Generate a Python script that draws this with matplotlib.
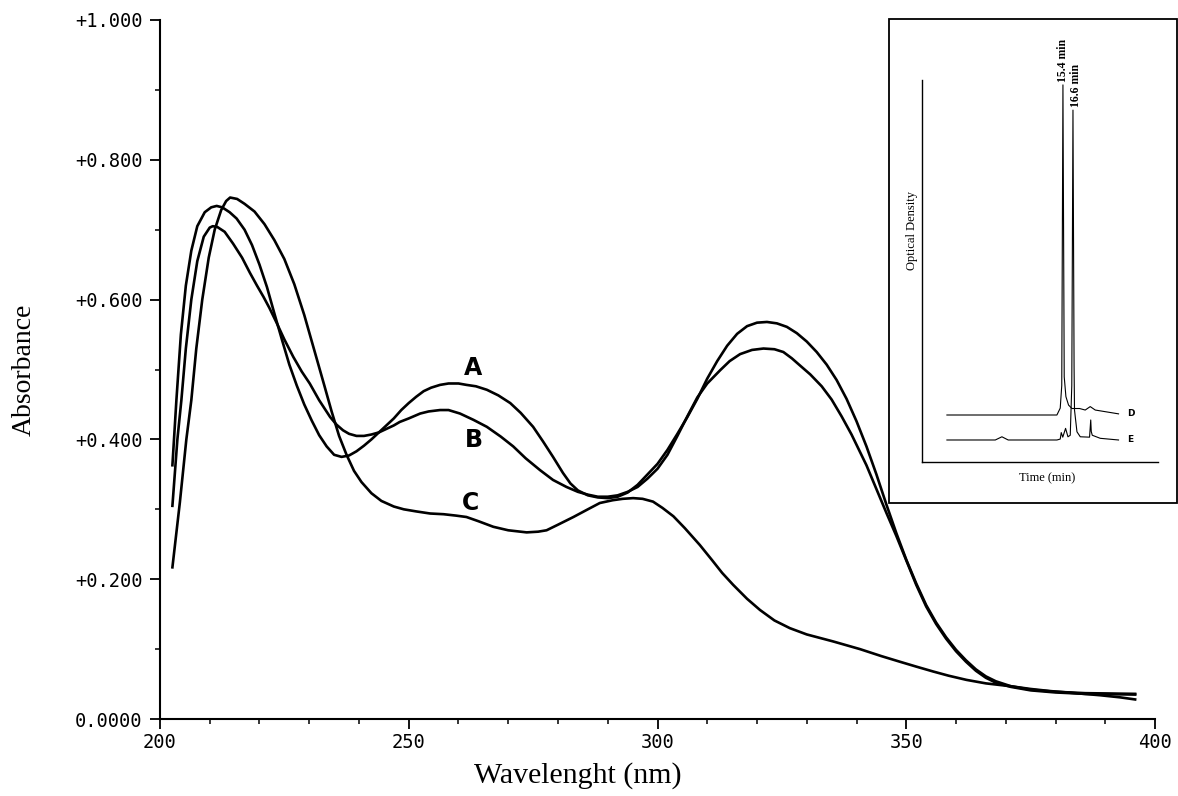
import matplotlib.pyplot as plt
import matplotlib.patches as mpatches
import numpy as np

### UV spectra (wavelength in nm, absorbance)
wl_A = [202.5, 203.3, 204.2, 205.2, 206.3, 207.5, 209, 210.3, 211.4, 212.5, 214, 215.4, 217, 218.5,
		220, 221.5, 223, 224.5, 226, 227.5, 229, 230.5, 232, 233.5, 235, 236.5, 238, 239.5, 241,
		242.5, 244, 245.5, 247, 248.5, 250, 251.5, 253, 254.5, 256.3, 258, 260, 261.6, 263.5, 265.7,
		268, 270.4, 272.5, 275, 277, 279, 281, 282.5, 284, 286, 288, 290, 292, 294, 296, 298, 300,
		302, 304, 306, 308, 310, 312, 314, 316, 318, 320, 322, 324, 326, 328, 330, 332, 334, 336,
		338, 340, 342, 344, 346, 348, 350, 352, 354, 356, 358, 360, 362, 364, 366, 368, 371, 375,
		380, 386, 396]
abs_A = [0.363, 0.456, 0.55, 0.62, 0.67, 0.705, 0.725, 0.732, 0.734, 0.732, 0.725, 0.716, 0.700, 0.678,
		 0.650, 0.618, 0.580, 0.543, 0.507, 0.477, 0.450, 0.427, 0.406, 0.390, 0.378, 0.375, 0.377, 0.383, 0.391,
		 0.400, 0.410, 0.420, 0.430, 0.442, 0.452, 0.461, 0.469, 0.474, 0.478, 0.480, 0.480, 0.478, 0.476, 0.471,
		 0.463, 0.452, 0.438, 0.418, 0.397, 0.375, 0.352, 0.337, 0.327, 0.320, 0.317, 0.316, 0.318, 0.324, 0.335, 0.350, 0.365,
		 0.385, 0.408, 0.432, 0.458, 0.487, 0.512, 0.534, 0.551, 0.562, 0.567, 0.568, 0.566, 0.561, 0.552, 0.540, 0.525, 0.507, 0.485,
		 0.458, 0.426, 0.390, 0.350, 0.307, 0.266, 0.228, 0.194, 0.163, 0.138, 0.117, 0.099, 0.084, 0.071, 0.061, 0.054, 0.047, 0.042,
		 0.039, 0.037, 0.036]

wl_B = [202.5, 203.5, 204.3, 205.2, 206.3, 207.5, 208.8, 210, 210.6, 211.5, 213, 214.7, 216.5, 218.1,
		219.5, 220.8, 222, 223.5, 225, 226.8, 228.5, 230.1, 232, 234.2, 235.5, 236.8, 238, 239.5, 241,
		242.5, 244, 245.5, 247, 248.2, 250, 252.3, 254, 256.3, 258, 260.3, 263, 265.7, 268.5, 271,
		273.5, 276.4, 279, 281.7, 284, 286, 288, 290, 292, 294, 296, 298, 300, 302, 304, 306, 308,
		310, 312.6, 314.5, 316.6, 319, 321.3, 323.5, 325.3, 327, 328.6, 330.7, 333, 335, 337, 339,
		342, 344, 346, 348, 350, 352, 354, 356, 358, 360, 362, 364, 366, 368, 371, 375, 380, 386, 396]
abs_B = [0.305, 0.40, 0.456, 0.53, 0.60, 0.655, 0.69, 0.703, 0.705, 0.704, 0.697, 0.680, 0.660, 0.638,
		 0.620, 0.604, 0.588, 0.566, 0.543, 0.518, 0.497, 0.480, 0.456, 0.432, 0.421, 0.413, 0.408, 0.405, 0.405,
		 0.407, 0.410, 0.415, 0.420, 0.425, 0.430, 0.437, 0.440, 0.442, 0.442, 0.437, 0.428, 0.418, 0.404, 0.390,
		 0.373, 0.356, 0.342, 0.332, 0.325, 0.321, 0.318, 0.318, 0.320, 0.325, 0.332, 0.344, 0.358, 0.378, 0.405, 0.433, 0.460,
		 0.480, 0.499, 0.512, 0.522, 0.528, 0.530, 0.529, 0.525, 0.516, 0.506, 0.493, 0.476, 0.457, 0.433, 0.407,
		 0.363, 0.329, 0.295, 0.262, 0.227, 0.192, 0.161, 0.136, 0.115, 0.097, 0.082, 0.069, 0.059, 0.052, 0.046, 0.041, 0.038, 0.036, 0.035]

wl_C = [202.5, 204, 205.3, 206.3, 207.3, 208.5, 209.8, 211, 212.3, 213.3, 214.1, 215.5, 217, 219,
		221, 223, 225, 227, 229, 231, 233, 234.5, 236, 237.5, 239, 240.5, 242.5, 244.5, 247, 249,
		251.5, 254.3, 257, 259.5, 261.6, 264, 267, 270, 273.7, 276, 277.7, 280, 283.1, 286, 288.4,
		291, 293, 295.1, 297, 299.1, 301, 303.2, 305.5, 308.5, 311, 313, 315.2, 318, 320.6, 323.5,
		326.6, 330, 335.3, 340.7, 345, 348.7, 352, 355.4, 358.5, 362.1, 366, 370.9, 375, 378.9, 384,
		389, 393, 396]
abs_C = [0.217, 0.31, 0.40, 0.456, 0.53, 0.60, 0.66, 0.70, 0.728, 0.741, 0.746, 0.744, 0.737, 0.726,
		 0.708, 0.685, 0.658, 0.622, 0.578, 0.528, 0.478, 0.44, 0.405, 0.378, 0.355, 0.339, 0.323, 0.312, 0.304, 0.300,
		 0.297, 0.294, 0.293, 0.291, 0.289, 0.283, 0.275, 0.270, 0.267, 0.268, 0.270, 0.278, 0.289, 0.300, 0.309,
		 0.313, 0.315, 0.316, 0.315, 0.311, 0.302, 0.290, 0.273, 0.249, 0.227, 0.209, 0.192, 0.172, 0.156, 0.141,
		 0.130, 0.121, 0.111, 0.100, 0.090, 0.082, 0.075, 0.068, 0.062, 0.056, 0.051, 0.047, 0.043, 0.040, 0.037,
		 0.034, 0.031, 0.028]

curve_names = ['A', 'B', 'C']
ytick_vals = [0.0, 0.2, 0.4, 0.6, 0.8, 1.0]
ytick_txt = ['0.0000', '+0.200', '+0.400', '+0.600', '+0.800', '+1.000']
xtick_vals = [200, 250, 300, 350, 400]

### HPLC inset traces (time in min, detector signal, arbitrary units)
t_D = [1.75, 8.0, 14.69, 15.08, 15.26, 15.4, 15.55, 15.75, 16.06, 16.46, 17.35, 18.02, 18.61, 19.2, 21.94]
s_D = [12.3, 12.3, 12.3, 14.1, 20.0, 98.7, 22.3, 17.1, 14.9, 14.0, 14.0, 13.6, 14.5, 13.6, 12.6]
t_E = [1.75, 7.44, 8.22, 8.96, 14.69, 15.08, 15.2, 15.38, 15.71, 15.99, 16.26, 16.44, 16.58, 16.71,
	   16.76, 17.05, 17.44, 18.53, 18.67, 18.73, 18.85, 19.79, 21.94]
s_E = [5.76, 5.76, 6.6, 5.76, 5.76, 6.0, 7.7, 6.5, 8.8, 6.6, 7.0, 20.0, 92.1, 25.0,
	   13.6, 7.9, 6.6, 6.5, 11.0, 8.0, 7.0, 6.2, 5.76]
peak_times = [15.4, 16.6]
peak_txt = ['15.4 min', '16.6 min']


### PLOT
fig = plt.figure(figsize=(11.78, 7.96), dpi=100)
ax = fig.add_axes([0.1358, 0.0967, 0.8447, 0.8782])

for wl, ab in [(wl_A, abs_A), (wl_B, abs_B), (wl_C, abs_C)]:
	ax.plot(wl, ab, color='k', lw=1.9, solid_joinstyle='round')

# curve letters
lab_pos = [(263, 0.502), (263, 0.399), (262.5, 0.309)]
for name, (lx, ly) in zip(curve_names, lab_pos):
	ax.text(lx, ly, name, fontsize=17, fontweight='bold', ha='center', va='center', family='DejaVu Sans')

ax.set_xlim(200, 400)
ax.set_ylim(0, 1.0)
ax.spines['top'].set_visible(False)
ax.spines['right'].set_visible(False)
ax.spines['left'].set_linewidth(1.5)
ax.spines['bottom'].set_linewidth(1.5)

ax.set_xticks(xtick_vals)
ax.set_xticklabels([str(v) for v in xtick_vals])
ax.set_xticks(np.arange(200, 401, 10), minor=True)
ax.set_yticks(ytick_vals)
ax.set_yticklabels(ytick_txt)
ax.set_yticks(np.arange(0, 1.01, 0.1), minor=True)
ax.tick_params(which='major', direction='out', length=7, width=1.3, labelsize=13.5, color='k')
ax.tick_params(which='minor', direction='out', length=3.5, width=1.1)
ax.tick_params(axis='y', which='major', pad=5.5)
ax.tick_params(axis='x', which='major', pad=3)
for lbl in ax.get_xticklabels() + ax.get_yticklabels():
	lbl.set_family('DejaVu Sans Mono')

ax.set_xlabel('Wavelenght (nm)', family='Liberation Serif', fontsize=21.5)
ax.set_ylabel('Absorbance', family='Liberation Serif', fontsize=20)
ax.xaxis.set_label_coords(0.42, -0.062)
ax.yaxis.set_label_coords(-0.124, 0.5)


### Inset
frame = mpatches.Rectangle((0.7547, 0.3681), 0.2445, 0.608, transform=fig.transFigure,
						   facecolor='white', edgecolor='k', lw=1.3, zorder=1)
fig.patches.append(frame)

ins = fig.add_axes([0.7824, 0.4196, 0.2006, 0.48])
ins.set_zorder(2)
ins.patch.set_alpha(0)
ins.plot(t_D, s_D, color='k', lw=0.8)
ins.plot(t_E, s_E, color='k', lw=0.8)
ins.set_xlim(-1.22, 26.58)
ins.set_ylim(0, 100)
ins.set_xticks([])
ins.set_yticks([])
ins.spines['top'].set_visible(False)
ins.spines['right'].set_visible(False)
ins.spines['left'].set_linewidth(1.0)
ins.spines['bottom'].set_linewidth(1.0)

ins.annotate('D', xy=(t_D[-1], s_D[-1]), xytext=(6, 0), textcoords='offset points',
			 fontsize=6.5, fontweight='bold', va='center', family='DejaVu Sans')
ins.annotate('E', xy=(t_E[-1], s_E[-1]), xytext=(6, 0), textcoords='offset points',
			 fontsize=6.5, fontweight='bold', va='center', family='DejaVu Sans')

for pt, txt, src_s, dx in [(peak_times[0], peak_txt[0], s_D, 0), (peak_times[1], peak_txt[1], s_E, 2)]:
	top = max(src_s)
	ins.annotate(txt, xy=(pt, top), xytext=(dx, 2), textcoords='offset points', rotation=90,
				 ha='center', va='bottom', fontsize=8.5, fontweight='bold', family='Liberation Serif')

fig.text(0.7739, 0.711, 'Optical Density', rotation=90, ha='center', va='center',
		 fontsize=9, family='Liberation Serif')
fig.text(0.8885, 0.3995, 'Time (min)', ha='center', va='center', fontsize=9, family='Liberation Serif')

plt.savefig('out.png', dpi=100)
